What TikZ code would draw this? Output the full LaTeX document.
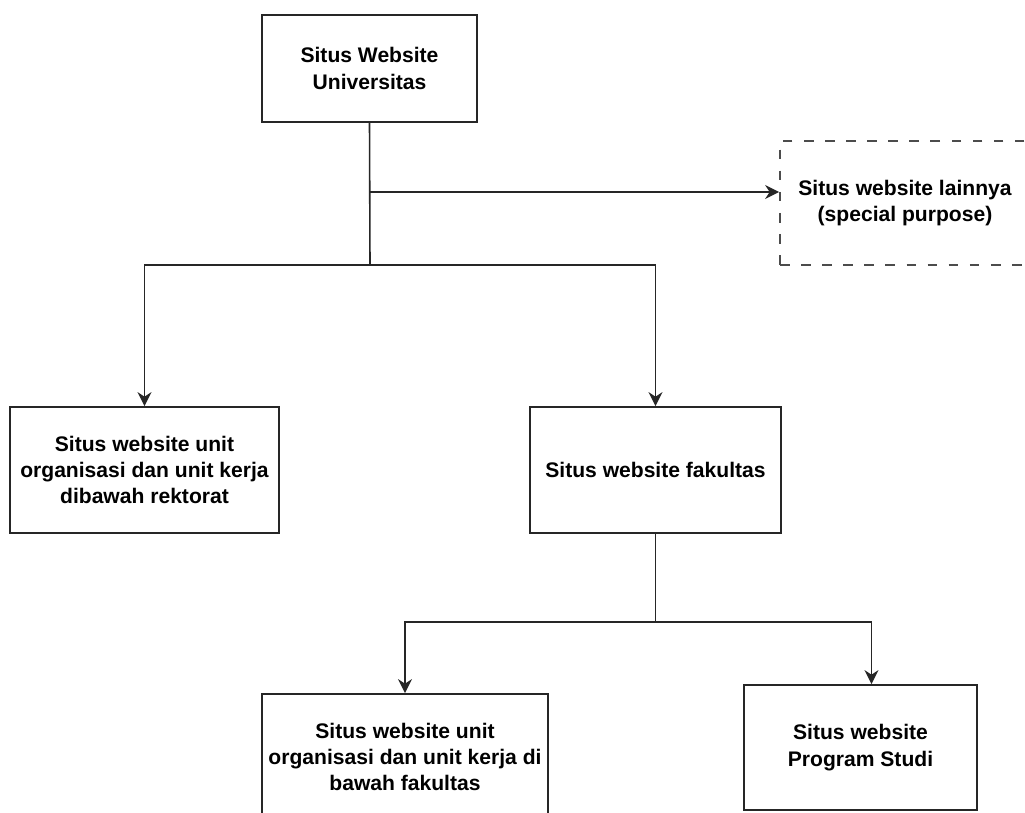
\documentclass[tikz,border=0pt]{standalone}
\usepackage{fontspec}
\setmainfont{Liberation Sans}
\usetikzlibrary{arrows.meta}

\tikzset{
    site/.style={draw=black!85, line width=1pt, fill=white, align=center,
        font=\bfseries\fontsize{12}{15}\selectfont, inner sep=2pt},
    sitedash/.style={site, draw=black!70, dash pattern=on 5.5pt off 6.5pt},
    link/.style={draw=black!85, line width=0.9pt},
    linkarrow/.style={link, -{Stealth[length=2.8mm,width=2.8mm]}}
}

\begin{document}
\begin{tikzpicture}

    % Frame of the picture (boxes on the edges are cut)
    \clip (0,0) rectangle (20.5,-16.26);
    \fill[white] (0,0) rectangle (20.5,-16.26);

    % Draw boxes
    \node[site, minimum width=4.3cm, minimum height=2.14cm] (univ) at (7.39,-1.37) {Situs Website\\Universitas};
    \node[sitedash, minimum width=5cm, minimum height=2.48cm] (lain) at (18.1,-4.06) {Situs website lainnya\\(special purpose)};
    \node[site, minimum width=5.38cm, minimum height=2.52cm] (rektorat) at (2.89,-9.4) {Situs website unit\\organisasi dan unit kerja\\dibawah rektorat};
    \node[site, minimum width=5.02cm, minimum height=2.52cm] (fakultas) at (13.11,-9.4) {Situs website fakultas};
    \node[site, minimum width=5.72cm, minimum height=2.52cm] (unitfak) at (8.1,-15.14) {Situs website unit\\organisasi dan unit kerja di\\bawah fakultas};
    \node[site, minimum width=4.66cm, minimum height=2.5cm] (prodi) at (17.21,-14.95) {Situs website\\Program Studi};

    % Junctions on the lines
    \coordinate (j0) at (7.4,-3.84);
    \coordinate (j1) at (7.4,-5.3);
    \coordinate (j2) at (13.11,-12.44);

    % Draw connectors from the university site
    \draw[link] (univ.south) -- (j1);
    \draw[linkarrow] (j0) -- (j0 -| lain.west);
    \draw[linkarrow] (j1) -| (rektorat.north);
    \draw[linkarrow] (j1) -| (fakultas.north);

    % Draw connectors from the faculty site
    \draw[link] (fakultas.south) -- (j2);
    \draw[linkarrow] (j2) -| (unitfak.north);
    \draw[linkarrow] (j2) -| ([xshift=2.2mm]prodi.north);

\end{tikzpicture}
\end{document}
